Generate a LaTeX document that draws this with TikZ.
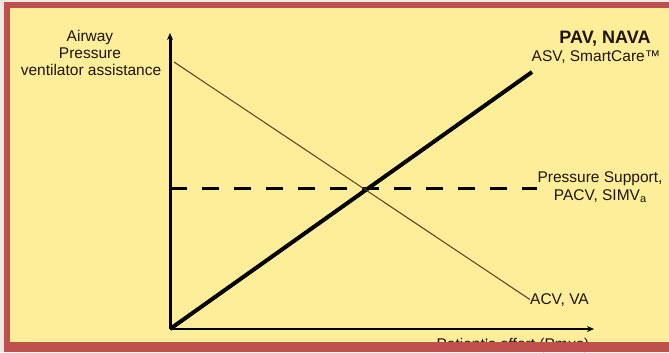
\documentclass[tikz,border=0pt]{standalone}
\usepackage{fontspec}
\setmainfont{Liberation Sans}
\usetikzlibrary{arrows.meta}
\definecolor{bgyellow}{HTML}{FFEE99}
\definecolor{frame}{HTML}{C0504D}
\definecolor{outside}{HTML}{EDE9E4}
\definecolor{ink}{HTML}{1E140A}
\definecolor{thinbrown}{HTML}{5A3A1E}
\tikzset{
  lbl/.style={inner sep=0pt, text=ink, font=\fontsize{15.5bp}{17bp}\selectfont, anchor=base},
  boldlbl/.style={lbl, font=\fontsize{18bp}{20bp}\selectfont\bfseries},
  axis/.style={draw=black, -{Stealth[length=7bp,width=6bp]}},
}
\newcommand{\lowsub}[1]{\raisebox{-0.35ex}{\fontsize{11bp}{12bp}\selectfont #1}}
\begin{document}
\begin{tikzpicture}[x=1bp,y=-1bp]
\useasboundingbox (0,0) rectangle (669,352);
% background
\fill[outside] (0,0) rectangle (669,352);
\fill[bgyellow] (10,8) rectangle (669,342);
% coordinates
\coordinate (O) at (170,329);
\coordinate (ytop) at (170,33);
\coordinate (xend) at (594,329);
\coordinate (thickend) at (532,72);
\coordinate (dashstart) at (170,188);
\coordinate (dashend) at (537,188);
\coordinate (thinstart) at (174,62);
% axes
\draw[axis, line width=3bp] (O) -- (ytop);
\draw[axis, line width=2bp] (O) -- (xend);
% lines
\draw[line width=4bp] (O) -- (thickend);
\draw[line width=3bp, dash pattern=on 17bp off 15bp] (dashstart) -- (dashend);
% labels
\node[lbl] (yl1) at (90,41) {Airway};
\node[lbl] (yl2) at (90,58) {Pressure};
\node[lbl] (yl3) at (91,75) {ventilator assistance};
\node[boldlbl] (pav) at (605,43) {PAV, NAVA};
\node[lbl] (asv) at (596,61) {ASV, SmartCare™};
\node[lbl] (ps1) at (600,182) {Pressure Support,};
\node[lbl] (ps2) at (600,200) {PACV, SIMV\lowsub{a}};
\node[lbl, anchor=base west] (acv) at (530,304) {ACV, VA};
\node[lbl] (xl) at (513,349) {Patient’s effort (Pmus)};
\draw[thinbrown, line width=1bp] (thinstart) -- (acv.west);
% frame
\fill[frame] (4,2) rectangle (669,8);
\fill[frame] (4,2) rectangle (10,352);
\fill[frame] (4,342) rectangle (669,352);
\end{tikzpicture}
\end{document}
